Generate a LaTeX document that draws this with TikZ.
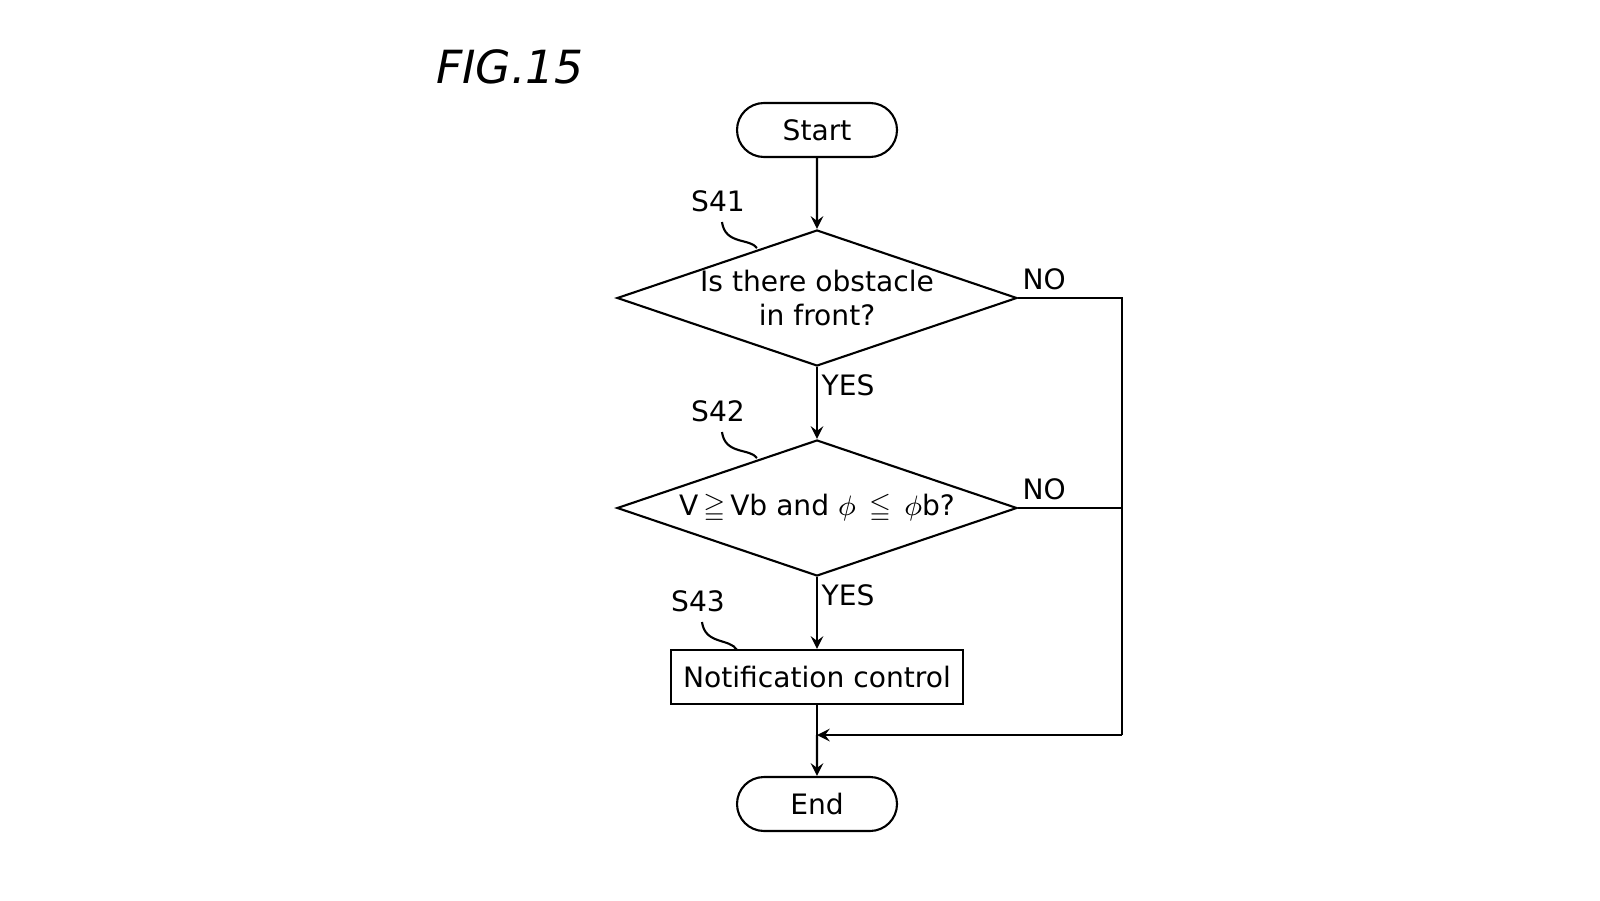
\documentclass[tikz,border=0pt]{standalone}
\usepackage{amssymb}
\usepackage{fontspec}
\setmainfont{DejaVu Sans}
\usetikzlibrary{shapes.geometric,shapes.misc,positioning}
\tikzset{
  term/.style={draw,rounded rectangle,minimum width=1.6cm,minimum height=0.54cm,inner sep=0pt,font=\fontsize{8}{9.6}\selectfont},
  dec/.style={draw,diamond,aspect=2.94,minimum width=4cm,minimum height=1.36cm,inner sep=0pt,align=center,font=\fontsize{8}{9.6}\selectfont},
  proc/.style={draw,minimum width=2.88cm,minimum height=0.54cm,font=\fontsize{8}{9.6}\selectfont},
  lbl/.style={font=\fontsize{8}{9.6}\selectfont,inner sep=1pt}
}
\begin{document}
\begin{tikzpicture}[>=stealth,semithick]
  \useasboundingbox (0,0) rectangle (16,9);
  \node[font=\fontsize{13}{14}\selectfont\itshape] (fig) at (5.1,8.33) {FIG.15};
  \node[term] (start) at (8.17,7.70) {Start};
  \node[dec]  (q1)    at (8.17,6.02) {Is there obstacle\\in front?};
  \node[dec]  (q2)    at (8.17,3.92) {V$\,\geqq\,$Vb and $\phi\,\leqq\,\phi$b?};
  \node[proc] (note)  at (8.17,2.23) {Notification control};
  \node[term] (end)   at (8.17,0.96) {End};
  \coordinate (join) at (8.17,1.65);
  \coordinate (rt1) at (11.22,6.02);
  \coordinate (rt2) at (11.22,3.92);
  \coordinate (rt3) at (11.22,1.65);

  \draw[->] (start) -- (q1);
  \draw[->] (q1) -- node[lbl,right,pos=0.25] {YES} (q2);
  \draw[->] (q2) -- node[lbl,right,pos=0.25] {YES} (note);
  \draw (note) -- (join);
  \draw[->] (join) -- (end);
  \draw (q1.east) -- (rt1) -- (rt3);
  \draw (q2.east) -- (rt2);
  \draw[->] (rt3) -- (join);
  \node[lbl,above right=0.04cm and 0cm of q1.east] {NO};
  \node[lbl,above right=0.04cm and 0cm of q2.east] {NO};

  % step labels
  \node[lbl] (s41) at (7.18,6.99) {S41};
  \node[lbl] (s42) at (7.18,4.89) {S42};
  \node[lbl] (s43) at (6.98,2.99) {S43};
  \draw (7.22,6.78) .. controls (7.25,6.55) and (7.50,6.62) .. (7.57,6.52);
  \draw (7.22,4.68) .. controls (7.25,4.45) and (7.50,4.52) .. (7.57,4.42);
  \draw (7.02,2.78) .. controls (7.05,2.55) and (7.30,2.62) .. (7.37,2.50);
\end{tikzpicture}
\end{document}
